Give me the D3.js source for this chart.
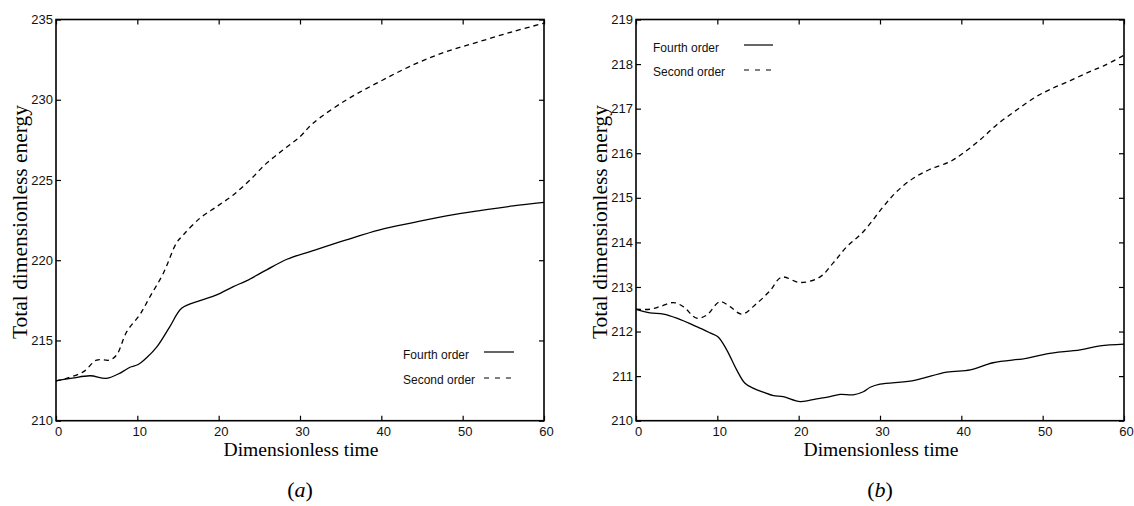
<!DOCTYPE html>
<html>
<head>
<meta charset="utf-8">
<script src="https://cdn.jsdelivr.net/npm/d3@7"></script>
<style>
html,body{margin:0;padding:0;background:#fff;}
svg{display:block;}
</style>
</head>
<body>
<svg id="chart" width="1134" height="506"></svg>
<script>
// ---- Data ----
const xTicks = [0, 10, 20, 30, 40, 50, 60];
const yTicksA = [210, 215, 220, 225, 230, 235];
const yTicksB = [210, 211, 212, 213, 214, 215, 216, 217, 218, 219];
const seriesNames = ["Fourth order", "Second order"];
const panelCaptions = ["a", "b"];
const xTitle = "Dimensionless time";
const yTitle = "Total dimensionless energy";

// Panel (a)
const timeA4 = [0, 2, 4.2, 6.2, 8, 9.1, 10.1, 11.2, 12.4, 14.0, 15.45, 17.7, 19.75, 21.8, 23.4, 25.9, 28.4, 31.6, 35.7, 39.8, 43.9, 48.0, 52.1, 56.2, 60];
const energyA4 = [212.48, 212.65, 212.8, 212.64, 213.0, 213.33, 213.5, 213.95, 214.6, 215.86, 217.0, 217.48, 217.84, 218.36, 218.71, 219.4, 220.06, 220.6, 221.27, 221.89, 222.34, 222.76, 223.09, 223.38, 223.6];
const timeA2 = [0, 1.3, 3.4, 5.0, 6.6, 7.46, 8.7, 10.3, 11.56, 13.2, 14.8, 15.65, 17.7, 19.76, 21.8, 23.85, 25.9, 27.95, 30, 31.6, 35.7, 39.8, 43.9, 48, 52.1, 56.2, 60];
const energyA2 = [212.48, 212.64, 213.06, 213.78, 213.78, 214.1, 215.55, 216.6, 217.73, 219.19, 221.06, 221.58, 222.62, 223.34, 224.07, 225.0, 226.05, 226.88, 227.7, 228.54, 229.99, 231.13, 232.17, 233.0, 233.63, 234.25, 234.77];

// Panel (b)
const timeB4 = [0, 1.72, 3.36, 5.0, 7.46, 9.1, 10.1, 11.15, 12.38, 13.4, 14.4, 15.65, 16.9, 18.1, 20.2, 22.2, 23.85, 25.1, 26.7, 27.95, 28.8, 30, 34.1, 38.2, 41.1, 43.9, 48, 50.5, 54.6, 57.05, 60];
const energyB4 = [212.5, 212.42, 212.39, 212.3, 212.11, 211.97, 211.88, 211.59, 211.14, 210.84, 210.73, 210.64, 210.56, 210.54, 210.43, 210.49, 210.54, 210.59, 210.58, 210.65, 210.75, 210.82, 210.9, 211.09, 211.14, 211.3, 211.4, 211.5, 211.59, 211.68, 211.72];
const timeB2 = [0, 1.72, 2.95, 4.6, 5.8, 7.46, 8.7, 10.3, 11.56, 13.0, 14.84, 16.5, 17.9, 20.2, 22.6, 24.25, 25.9, 27.95, 30.4, 32.05, 34.1, 36.15, 38.6, 40.2, 42.3, 44.3, 46.8, 49.2, 50.9, 53.4, 55.8, 57.5, 60];
const energyB2 = [212.5, 212.5, 212.56, 212.65, 212.56, 212.3, 212.37, 212.67, 212.56, 212.39, 212.63, 212.92, 213.22, 213.1, 213.22, 213.54, 213.9, 214.24, 214.8, 215.14, 215.44, 215.64, 215.81, 216.0, 216.3, 216.63, 216.97, 217.27, 217.43, 217.63, 217.83, 217.96, 218.2];

// ---- Drawing ----
const svg = d3.select("#chart");
const sansFont = "'Liberation Sans', Arial, sans-serif";
const serifFont = "'Liberation Serif', 'Times New Roman', serif";

const panels = [
  {left: 56, right: 544, yDomain: [210, 235], yTicks: yTicksA,
   t4: timeA4, e4: energyA4, t2: timeA2, e2: energyA2,
   legend: {textX: 403, y4: 355, y2: 380, lineX1: 484, lineX2: 514}, caption: panelCaptions[0], ytitleX: 21},
  {left: 636, right: 1124, yDomain: [210, 219], yTicks: yTicksB,
   t4: timeB4, e4: energyB4, t2: timeB2, e2: energyB2,
   legend: {textX: 653, y4: 48, y2: 72, lineX1: 744, lineX2: 773}, caption: panelCaptions[1], ytitleX: 601}
];
const plotTop = 19.5, plotBottom = 420.7;

panels.forEach(p => {
  const x = d3.scaleLinear().domain([0, 60]).range([p.left, p.right]);
  const y = d3.scaleLinear().domain(p.yDomain).range([plotBottom, plotTop]);
  const g = svg.append("g");

  // axes
  const ax = g.append("g").attr("transform", `translate(0,${plotBottom})`)
    .call(d3.axisBottom(x).tickValues(xTicks).tickSize(-5).tickPadding(6).tickFormat(d3.format("d")));
  const axT = g.append("g").attr("transform", `translate(0,${plotTop})`)
    .call(d3.axisTop(x).tickValues(xTicks).tickSize(-5).tickFormat(""));
  const ay = g.append("g").attr("transform", `translate(${p.left},0)`)
    .call(d3.axisLeft(y).tickValues(p.yTicks).tickSize(-5).tickPadding(3).tickFormat(d3.format("d")));
  const ayR = g.append("g").attr("transform", `translate(${p.right},0)`)
    .call(d3.axisRight(y).tickValues(p.yTicks).tickSize(-5).tickFormat(""));
  [ax, axT, ay, ayR].forEach(a => {
    a.select(".domain").remove();
    a.selectAll(".tick line").attr("stroke", "#000").attr("stroke-width", 1.2);
    a.selectAll(".tick text").attr("font-family", sansFont).attr("font-size", 13).attr("fill", "#111");
  });
  ax.selectAll(".tick text").attr("dx", 2);

  // frame
  g.append("rect").attr("x", p.left).attr("y", plotTop)
    .attr("width", p.right - p.left).attr("height", plotBottom - plotTop)
    .attr("fill", "none").attr("stroke", "#000").attr("stroke-width", 1.6);

  // lines
  const line = d3.line().x(d => x(d[0])).y(d => y(d[1])).curve(d3.curveCatmullRom.alpha(0.5));
  g.append("path").datum(d3.zip(p.t4, p.e4)).attr("d", line)
    .attr("fill", "none").attr("stroke", "#000").attr("stroke-width", 1.3);
  g.append("path").datum(d3.zip(p.t2, p.e2)).attr("d", line)
    .attr("fill", "none").attr("stroke", "#000").attr("stroke-width", 1.3)
    .attr("stroke-dasharray", "5,4");

  // legend
  const L = p.legend;
  g.append("text").attr("x", L.textX).attr("y", L.y4).attr("dy", "0.35em")
    .attr("font-family", sansFont).attr("font-size", 12).attr("fill", "#111").text(seriesNames[0]);
  g.append("text").attr("x", L.textX).attr("y", L.y2).attr("dy", "0.35em")
    .attr("font-family", sansFont).attr("font-size", 12).attr("fill", "#111").text(seriesNames[1]);
  g.append("line").attr("x1", L.lineX1).attr("x2", L.lineX2).attr("y1", L.y4 - 3).attr("y2", L.y4 - 3)
    .attr("stroke", "#000").attr("stroke-width", 1.2);
  g.append("line").attr("x1", L.lineX1).attr("x2", L.lineX2).attr("y1", L.y2 - 2).attr("y2", L.y2 - 2)
    .attr("stroke", "#000").attr("stroke-width", 1.2).attr("stroke-dasharray", "5,6");

  // titles
  g.append("text").attr("x", (p.left + p.right) / 2 + 1).attr("y", 456)
    .attr("text-anchor", "middle").attr("font-family", serifFont).attr("font-size", 19).attr("fill", "#000")
    .attr("textLength", 155).attr("lengthAdjust", "spacingAndGlyphs")
    .text(xTitle);
  g.append("text").attr("transform", `translate(${p.ytitleX + 6},${222}) rotate(-90)`)
    .attr("text-anchor", "middle").attr("font-family", serifFont).attr("font-size", 20).attr("fill", "#000")
    .attr("textLength", 234).attr("lengthAdjust", "spacingAndGlyphs")
    .text(yTitle);

  // caption
  const cap = g.append("text").attr("x", (p.left + p.right) / 2).attr("y", 497)
    .attr("text-anchor", "middle").attr("font-family", serifFont).attr("font-size", 22).attr("fill", "#000");
  cap.append("tspan").text("(");
  cap.append("tspan").attr("font-style", "italic").text(p.caption);
  cap.append("tspan").text(")");
});
</script>
</body>
</html>
